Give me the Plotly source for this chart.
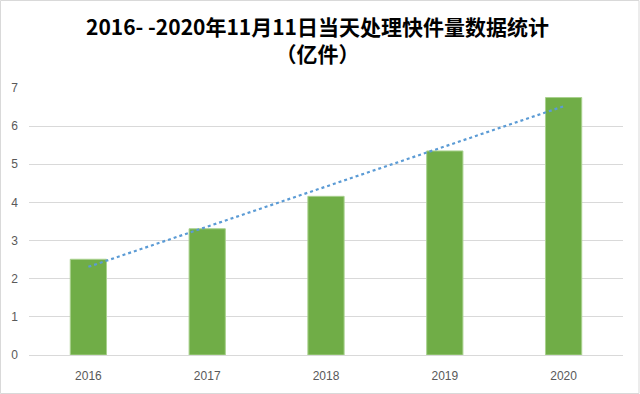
import plotly.graph_objects as go
import numpy as np

years = ["2016", "2017", "2018", "2019", "2020"]
parcels = [2.51, 3.31, 4.16, 5.35, 6.75]
title_line1 = "2016- -2020年11月11日当天处理快件量数据统计"
title_line2 = "（亿件）"

# Linear trendline (as in the original spreadsheet chart)
xi = np.arange(len(parcels))
slope, intercept = np.polyfit(xi, parcels, 1)
trend = list(intercept + slope * xi)

W, H = 640, 394
L, R, T, B = 29, 17, 88, 39
ph = H - T - B
pw = W - L - R

def py(pix):  # pixel row from top -> paper y
    return (H - B - pix) / ph

fig = go.Figure()
fig.add_trace(go.Bar(
    x=years, y=parcels,
    marker=dict(color="#70ad47", line=dict(color="#a9d18e", width=1)),
    width=0.305, showlegend=False, hoverinfo="y",
))
fig.add_trace(go.Scatter(
    x=years, y=trend, mode="lines",
    line=dict(color="#5b9bd5", width=2.2, dash="dot"),
    showlegend=False, hoverinfo="skip",
))

title_font = dict(family="Noto Sans CJK SC, sans-serif", size=21, color="#000000", weight="bold")
fig.update_layout(
    width=W, height=H,
    margin=dict(l=L, r=R, t=T, b=B, autoexpand=False),
    paper_bgcolor="white", plot_bgcolor="white",
    font=dict(family="Liberation Sans, Noto Sans CJK SC, sans-serif", color="#595959", size=12),
    annotations=[
        dict(text=title_line1 + "<br>" + title_line2, xref="paper", yref="paper",
             x=(317 - L) / pw, y=py(39), xanchor="center", yanchor="middle",
             showarrow=False, font=title_font),
    ],
    xaxis=dict(
        showgrid=False, showline=True, linecolor="#d9d9d9", linewidth=1, automargin=False,
        ticks="", ticklabelstandoff=10, tickfont=dict(size=12, color="#595959"),
    ),
    yaxis=dict(
        range=[0, 7], dtick=1, showgrid=True, gridcolor="#d9d9d9", gridwidth=1, automargin=False,
        zeroline=False, showline=False, ticks="", ticklabelstandoff=10,
        tickfont=dict(size=12, color="#595959"),
    ),
    shapes=[dict(type="rect", xref="paper", yref="paper", x0=-(L - 0.5) / pw, x1=1 + (R - 1) / pw,
                 y0=-(B - 0.5) / ph, y1=1 + (T - 0.5) / ph, line=dict(color="#d9d9d9", width=1),
                 fillcolor="rgba(0,0,0,0)", layer="below")],
)

fig.write_html("out.html", config={"displayModeBar": False},
               post_script="document.body.style.margin='0';document.body.style.overflow='hidden';")
